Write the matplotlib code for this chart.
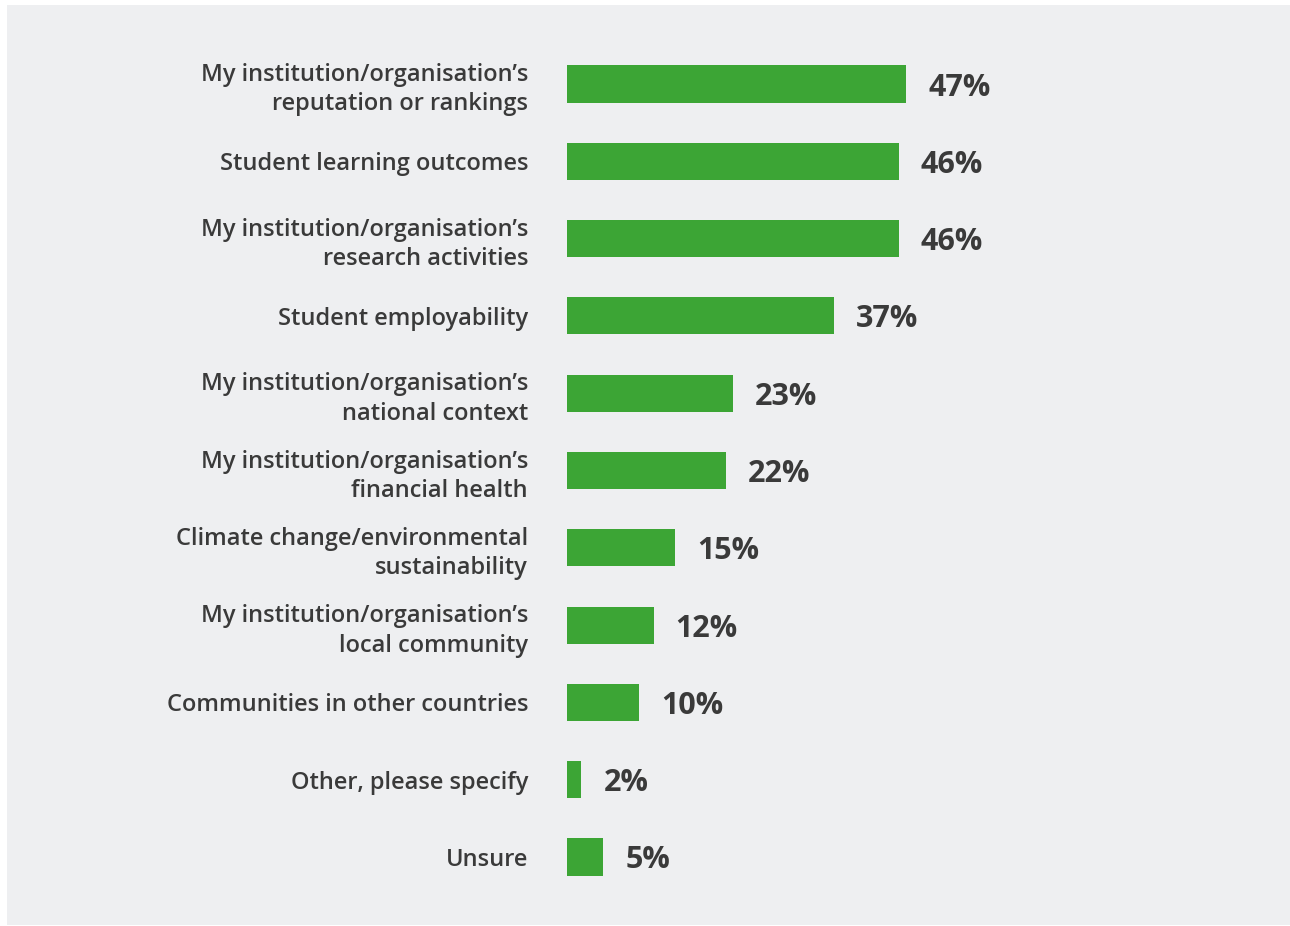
import matplotlib.pyplot as plt
from matplotlib.patches import Rectangle

categories = [
    'My institution/organisation\u2019s\nreputation or rankings',
    'Student learning outcomes',
    'My institution/organisation\u2019s\nresearch activities',
    'Student employability',
    'My institution/organisation\u2019s\nnational context',
    'My institution/organisation\u2019s\nfinancial health',
    'Climate change/environmental\nsustainability',
    'My institution/organisation\u2019s\nlocal community',
    'Communities in other countries',
    'Other, please specify',
    'Unsure',
]
values = [47, 46, 46, 37, 23, 22, 15, 12, 10, 2, 5]

green = '#3ca535'
text_col = '#3a3a3a'
panel = '#eeeff1'

W, H = 1290, 926
fig = plt.figure(figsize=(W / 100, H / 100), dpi=100, facecolor='white')
# grey panel behind the chart
fig.patches.append(Rectangle((7 / W, 1 - 925 / H), (1290 - 7) / W, (925 - 5) / H,
                             transform=fig.transFigure, facecolor=panel,
                             edgecolor='none', zorder=-10))

top, step = 84, 77.3
n = len(categories)
ax_top = top - step / 2
ax_bot = ax_top + step * n
x0, px_per = 567, 7.21
ax = fig.add_axes([x0 / W, 1 - ax_bot / H, 100 * px_per / W, (ax_bot - ax_top) / H])
ax.set_facecolor('none')
ax.set_zorder(5)

pos = list(range(n))
ax.barh(pos, values, height=0.48, color=green)
ax.set_xlim(0, 100)
ax.set_ylim(n - 0.5, -0.5)

ax.set_yticks(pos)
ax.set_yticklabels(categories, fontsize=17, color=text_col, family='Open Sans',
                   fontweight='semibold', linespacing=1.3, multialignment='right')
ax.tick_params(axis='y', length=0, pad=28)
ax.set_xticks([])
for s in ax.spines.values():
    s.set_visible(False)

for p, v in zip(pos, values):
    ax.annotate('%d%%' % v, (v, p), xytext=(16, 0), textcoords='offset points',
                va='center_baseline', ha='left', fontsize=22, fontweight='bold',
                color=text_col, family='Open Sans')

fig.savefig('out.png', dpi=100, facecolor='white')
